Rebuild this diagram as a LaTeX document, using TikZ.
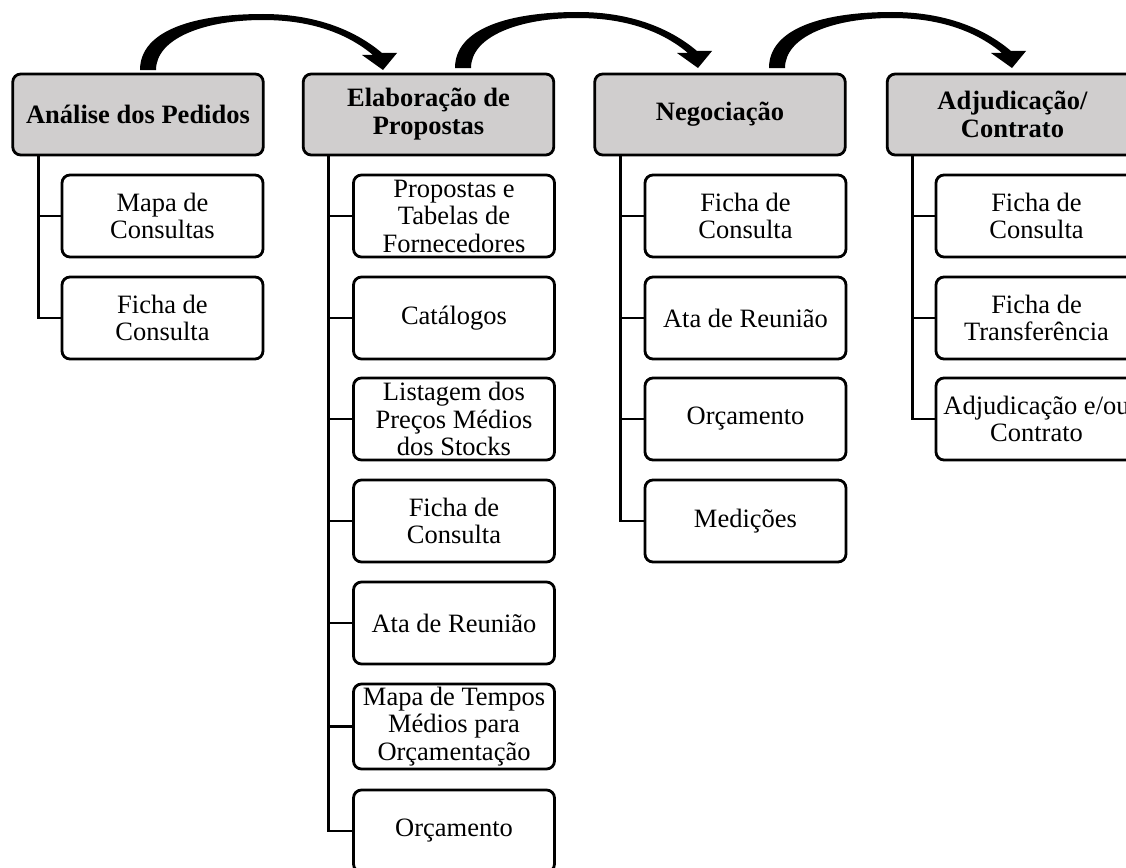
\documentclass[tikz,border=0pt]{standalone}
\usepackage{fontspec}
\setmainfont{Liberation Serif}
\definecolor{headgray}{RGB}{208,206,206}
\begin{document}
\begin{tikzpicture}[x=1pt,y=-1pt,
  every node/.style={inner sep=0pt, outer sep=0pt},
  phase/.style={draw, line width=2.8pt, rounded corners=8pt, fill=headgray,
    minimum width=250.5pt, minimum height=81pt, align=center,
    font=\fontsize{26.5}{28}\selectfont\bfseries},
  doc/.style={draw, line width=2.8pt, rounded corners=8pt, fill=white,
    minimum width=201pt, minimum height=82pt, align=center,
    font=\fontsize{26.5}{27.5}\selectfont},
  link/.style={line width=2.8pt},
  flowarc/.pic={
    \fill[black] (0,0) .. controls (0,-40) and (55,-56) .. (123,-56)
      .. controls (175,-56) and (215,-40) .. (242,-17)
      -- (257,-17) -- (243,0) -- (222,-15) -- (233,-15)
      .. controls (208,-36) and (172,-50) .. (123,-50)
      .. controls (65,-50) and (16,-32) .. (16,0) -- cycle;
  }
]
\clip (0,0) rectangle (1126,867);

% process phases
\node[phase] (h1) at (138,114.5)   {Análise dos Pedidos};
\node[phase] (h2) at (428.5,114.5) {Elaboração de\\Propostas};
\node[phase] (h3) at (720,114.5)   {Negociação};
\node[phase] (h4) at (1012.5,114.5) {Adjudicação/\\Contrato};

% arcs between phases
\pic at (140,70) {flowarc};
\pic at (455,68) {flowarc};
\pic at (769,68) {flowarc};

% documents of each phase
\node[doc] (a1) at (162.5,216) {Mapa de\\Consultas};
\node[doc] (a2) at (162.5,318) {Ficha de\\Consulta};

\node[doc] (b1) at (454,216) {Propostas e\\Tabelas de\\Fornecedores};
\node[doc] (b2) at (454,318) {Catálogos};
\node[doc] (b3) at (454,419) {Listagem dos\\Preços Médios\\dos Stocks};
\node[doc] (b4) at (454,521) {Ficha de\\Consulta};
\node[doc] (b5) at (454,623) {Ata de Reunião};
\node[doc, minimum height=85pt] (b6) at (454,726.5) {Mapa de Tempos\\Médios para\\Orçamentação};
\node[doc] (b7) at (454,831) {Orçamento};

\node[doc] (c1) at (745.5,216) {Ficha de\\Consulta};
\node[doc] (c2) at (745.5,318) {Ata de Reunião};
\node[doc] (c3) at (745.5,419) {Orçamento};
\node[doc] (c4) at (745.5,521) {Medições};

\node[doc] (d1) at (1036.5,216) {Ficha de\\Consulta};
\node[doc] (d2) at (1036.5,318) {Ficha de\\Transferência};
\node[doc] (d3) at (1036.5,419) {Adjudicação e/ou\\Contrato};

% tree connectors
\coordinate (s1) at ([xshift=25.5pt]h1.south west);
\coordinate (s2) at ([xshift=25.5pt]h2.south west);
\coordinate (s3) at ([xshift=25.5pt]h3.south west);
\coordinate (s4) at ([xshift=25.5pt]h4.south west);

\foreach \n in {a1,a2} \draw[link] (s1) |- (\n.west);
\foreach \n in {b1,b2,b3,b4,b5,b6,b7} \draw[link] (s2) |- (\n.west);
\foreach \n in {c1,c2,c3,c4} \draw[link] (s3) |- (\n.west);
\foreach \n in {d1,d2,d3} \draw[link] (s4) |- (\n.west);
\end{tikzpicture}
\end{document}
